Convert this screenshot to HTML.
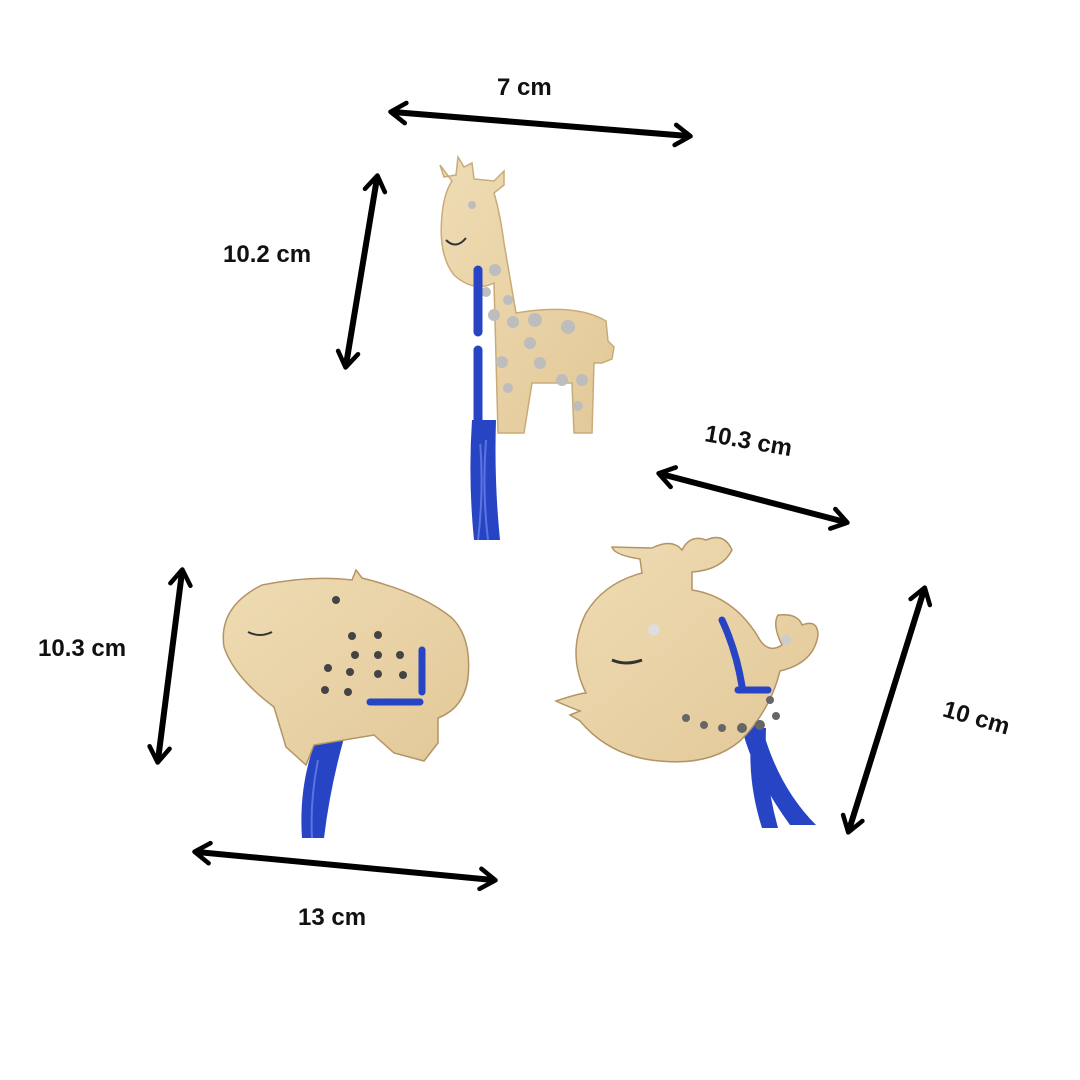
<!DOCTYPE html>
<html><head><meta charset="utf-8"><style>
html,body{margin:0;padding:0;background:#fff;width:1080px;height:1080px;overflow:hidden}
svg text{font-family:"Liberation Sans",sans-serif;font-weight:bold;font-size:24px;fill:#111}
</style></head><body>
<svg width="1080" height="1080" viewBox="0 0 1080 1080" xmlns="http://www.w3.org/2000/svg">
<defs>
<marker id="a" viewBox="0 0 10 10" refX="6" refY="5" markerWidth="4.2" markerHeight="4.2" orient="auto-start-reverse" markerUnits="strokeWidth">
<path d="M1,1 L7,5 L1,9" fill="none" stroke="#000" stroke-width="1.8" stroke-linecap="round" stroke-linejoin="round"/>
</marker>
<linearGradient id="w" x1="0" y1="0" x2="1" y2="1"><stop offset="0" stop-color="#efdcb4"/><stop offset="1" stop-color="#e2c898"/></linearGradient>
</defs>
<g stroke="#000" stroke-width="6" stroke-linecap="round" fill="none" marker-start="url(#a)" marker-end="url(#a)">
<line x1="393" y1="112" x2="688" y2="136"/>
<line x1="377" y1="178" x2="346" y2="365"/>
<line x1="661" y1="474" x2="845" y2="522"/>
<line x1="182" y1="572" x2="158" y2="760"/>
<line x1="924" y1="590" x2="849" y2="830"/>
<line x1="197" y1="852" x2="493" y2="880"/>
</g>
<text x="497" y="95">7 cm</text>
<text x="223" y="262">10.2 cm</text>
<text x="703" y="450" transform="rotate(10 755 450)">10.3 cm</text>
<text x="38" y="656">10.3 cm</text>
<text x="940" y="727" transform="rotate(16 980 727)">10 cm</text>
<text x="298" y="925">13 cm</text>

<!-- giraffe -->
<g stroke="#c9ab78" stroke-width="1.5">
<path d="M472,420 q-4,60 2,120 h26 q-6,-60 -4,-120z" fill="#2744c4" stroke="none"/>
<path d="M486,440 q-4,50 2,100 M480,440 q4,50 -2,100" stroke="#5a74e0" stroke-width="2" fill="none"/>
<path d="M440,165 l4,12 12,-2 2,-18 6,10 8,-4 2,16 20,2 10,-10 0,14 -10,8 q6,20 10,50 l12,70 q60,-10 90,8 l2,20 6,6 -2,12 -10,4 -8,0 -2,70 -18,0 -2,-50 -40,0 -8,50 -26,0 -4,-150 q-20,10 -40,-8 q-16,-20 -12,-60 q2,-22 10,-34 z" fill="url(#w)"/>
<g fill="#bdbdbd" stroke="none">
<circle cx="472" cy="205" r="4"/><circle cx="495" cy="270" r="6"/><circle cx="486" cy="292" r="5"/><circle cx="508" cy="300" r="5"/><circle cx="494" cy="315" r="6"/><circle cx="513" cy="322" r="6"/><circle cx="535" cy="320" r="7"/><circle cx="568" cy="327" r="7"/><circle cx="530" cy="343" r="6"/><circle cx="502" cy="362" r="6"/><circle cx="540" cy="363" r="6"/><circle cx="562" cy="380" r="6"/><circle cx="582" cy="380" r="6"/><circle cx="578" cy="406" r="5"/><circle cx="508" cy="388" r="5"/>
</g>
<path d="M478,270 v62 M478,350 v90" stroke="#2744c4" stroke-width="9" fill="none" stroke-linecap="round"/>
<path d="M446,240 q10,10 20,-2" stroke="#333" stroke-width="2" fill="none"/>
</g>

<!-- hippo -->
<g stroke="#b39465" stroke-width="1.5">
<path d="M320,730 q-22,50 -18,108 h22 q6,-50 20,-100z" fill="#2744c4" stroke="none"/>
<path d="M318,760 q-8,40 -6,78" stroke="#5a74e0" stroke-width="2" fill="none"/>
<path d="M262,585 q50,-10 90,-5 l4,-10 6,8 q60,15 90,40 q20,20 16,60 q-4,30 -30,40 l0,25 -14,18 -30,-8 -20,-18 -60,10 -8,20 -20,-18 -12,-40 q-40,-30 -50,-60 q-6,-40 38,-62z" fill="url(#w)"/>
<g fill="#444" stroke="none">
<circle cx="336" cy="600" r="4"/><circle cx="352" cy="636" r="4"/><circle cx="378" cy="635" r="4"/><circle cx="355" cy="655" r="4"/><circle cx="378" cy="655" r="4"/><circle cx="400" cy="655" r="4"/><circle cx="328" cy="668" r="4"/><circle cx="350" cy="672" r="4"/><circle cx="378" cy="674" r="4"/><circle cx="403" cy="675" r="4"/><circle cx="325" cy="690" r="4"/><circle cx="348" cy="692" r="4"/>
</g>
<path d="M370,702 h50 M422,650 v42" stroke="#2744c4" stroke-width="7" fill="none" stroke-linecap="round"/>
<path d="M248,632 q12,6 24,0" stroke="#333" stroke-width="2" fill="none"/>
</g>

<!-- whale -->
<g stroke="#b39465" stroke-width="1.5">
<path d="M740,720 q10,50 50,105 h26 q-40,-40 -56,-105z M752,728 q-6,50 10,100 h16 q-14,-50 -12,-100z" fill="#2744c4" stroke="none"/>
<path d="M652,548 q20,-10 30,2 q8,-16 24,-10 q18,-8 26,10 q-10,20 -40,22 l0,18 q40,6 65,45 q10,20 25,10 q-10,-20 -4,-30 q20,-2 24,10 q16,-6 16,10 q-4,28 -38,36 q-10,40 -40,70 q-30,25 -80,20 q-50,-4 -80,-40 l-10,-6 10,-4 q-16,-6 -24,-10 q24,-8 30,-8 q-20,-40 0,-80 q18,-30 56,-40 l-2,-14 q-26,-4 -28,-12z" fill="url(#w)"/>
<g fill="#666" stroke="none">
<circle cx="654" cy="630" r="6" fill="#ddd"/><circle cx="686" cy="718" r="4"/><circle cx="704" cy="725" r="4"/><circle cx="722" cy="728" r="4"/><circle cx="742" cy="728" r="5"/><circle cx="760" cy="725" r="5"/><circle cx="776" cy="716" r="4"/><circle cx="770" cy="700" r="4"/><circle cx="786" cy="640" r="5" fill="#ccc"/>
</g>
<path d="M612,660 q14,6 30,0" stroke="#333" stroke-width="3" fill="none"/>
<path d="M722,620 q14,30 20,66 M738,690 h30" stroke="#2744c4" stroke-width="7" fill="none" stroke-linecap="round"/>
</g>
</svg>
</body></html>
